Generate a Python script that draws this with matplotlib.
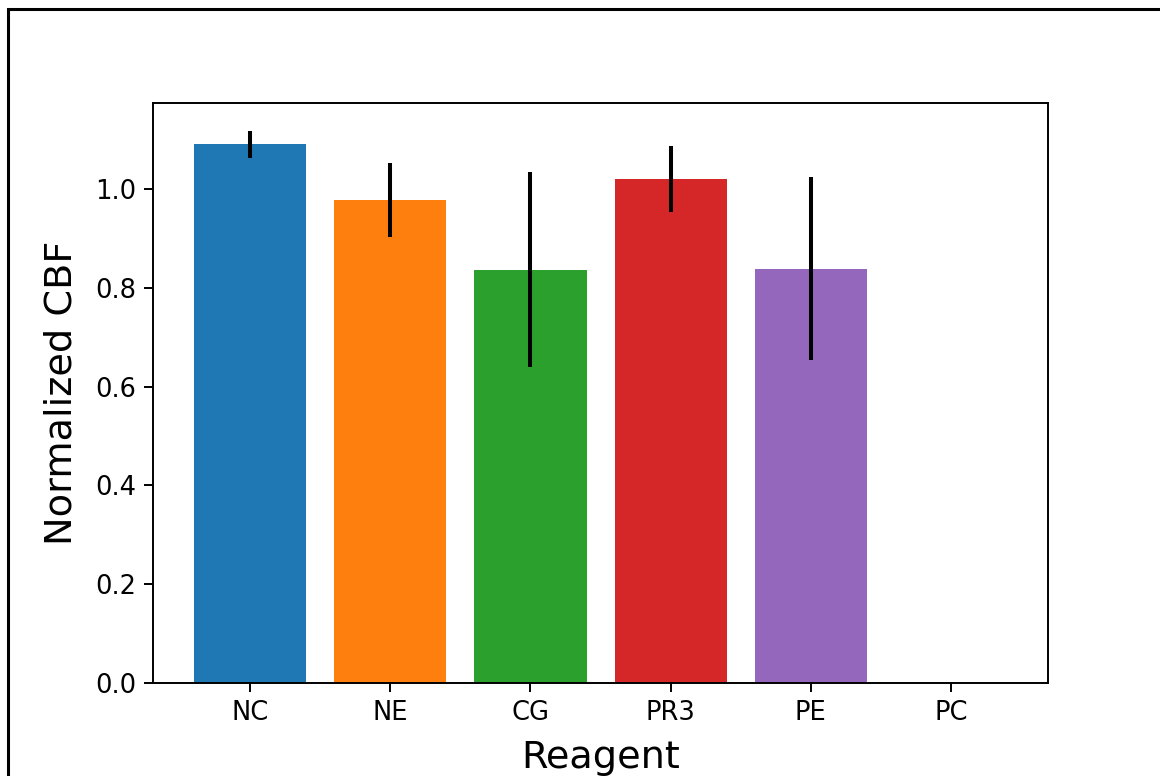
import matplotlib
matplotlib.use("Agg")
import matplotlib.pyplot as plt
from matplotlib.patches import Rectangle

categories = ["NC", "NE", "CG", "PR3", "PE", "PC"]
values = [1.091, 0.979, 0.837, 1.021, 0.839, 0.0]
errors = [0.027, 0.075, 0.197, 0.067, 0.186, 0.0]
colors = ["#1f77b4", "#ff7f0e", "#2ca02c", "#d62728", "#9467bd", "#8c564b"]

fig = plt.figure(figsize=(11.6, 7.76), dpi=100)
ax = fig.add_axes([0.1322, 0.1202, 0.771, 0.7466])
x = list(range(len(categories)))
ax.bar(x, values, width=0.8, color=colors, yerr=errors,
       error_kw=dict(ecolor="black", elinewidth=2.9, capsize=0))
ax.set_xticks(x)
ax.set_xticklabels(categories)
ax.set_yticks([0.0, 0.2, 0.4, 0.6, 0.8, 1.0])
ax.tick_params(labelsize=18.5, length=6.3, width=1.4, pad=6)
ax.set_ylabel("Normalized CBF", fontsize=27.5, labelpad=11)
ax.set_xlabel("Reagent", fontsize=27.5, labelpad=10)
for s in ax.spines.values():
    s.set_linewidth(1.4)

fig.patches.append(Rectangle((8/1160, -0.1), 1.2, (776-9)/776 + 0.1,
                             transform=fig.transFigure, fill=False,
                             edgecolor="black", linewidth=2.2))
fig.savefig("out.png", dpi=100)
